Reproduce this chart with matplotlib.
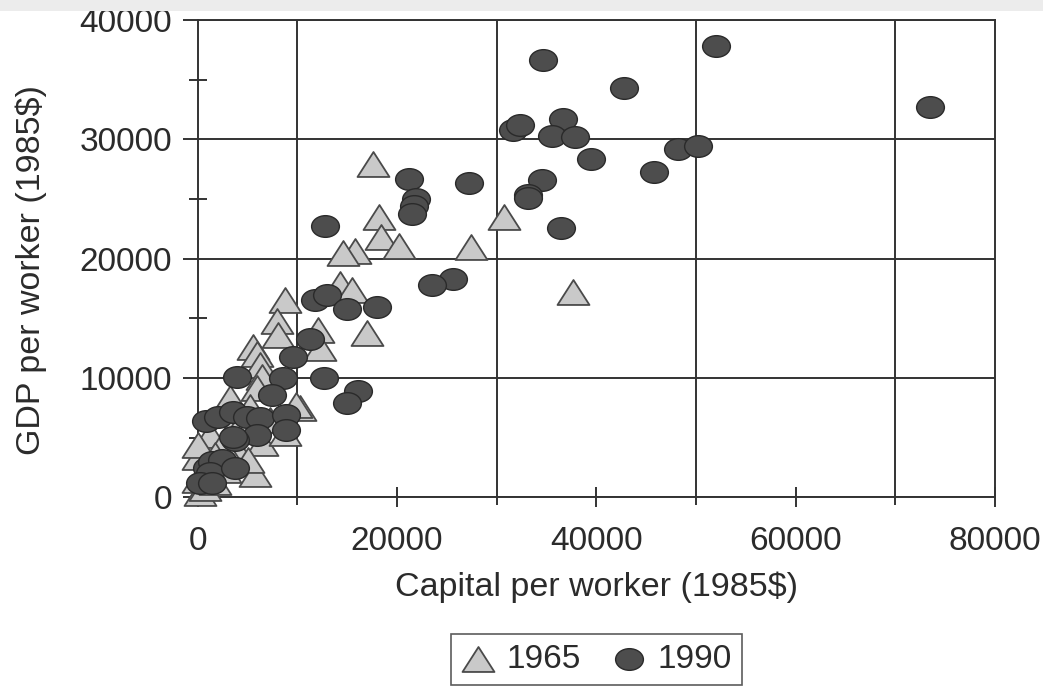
import numpy as np
import matplotlib
matplotlib.use('Agg')
from matplotlib import pyplot as plt
from matplotlib.path import Path
from matplotlib.patches import Rectangle
from matplotlib.ticker import FixedLocator

plt.rcParams['font.family'] = ['Liberation Sans', 'DejaVu Sans']

# capital per worker / GDP per worker, 1985$
k1965 = [37660, 17590, 18190, 18390, 20200, 27420, 30730, 15780, 14580, 14280,
         15480, 16990, 12070, 12270, 8760, 7960, 8060, 5550, 5950, 6250,
         6450, 5950, 10260, 9860, 5250, 6450, 5750, 4240, 3240, 1230,
         0, 30, 0, 230, 730, 1740, 2740, 4240, 7250, 8760,
         2440, 5050, 3240, 1740]
y1965 = [17230, 27970, 23520, 21850, 21090, 21010, 23520, 20670, 20500, 17900,
         17400, 13790, 14050, 12540, 16560, 14800, 13630, 12620, 12030, 11110,
         10110, 9180, 7510, 7760, 7590, 4570, 1970, 3560, 5490, 5240,
         3400, 4400, 1470, 380, 800, 1300, 2310, 6080, 6500, 5410,
         4400, 3140, 8340, 3560]

k1990 = [34650, 52010, 42780, 73480, 31640, 32340, 36650, 35550, 37860, 39460,
         48190, 50200, 45790, 34550, 33140, 33140, 36450, 21200, 27220, 21900,
         21700, 21500, 12770, 25620, 23510, 11770, 12970, 14980, 17990, 11270,
         9560, 12670, 16080, 14980, 3940, 8560, 7460, 830, 2040, 3540,
         4950, 6250, 8860, 8860, 5950, 3740, 3540, 930, 1430, 2440,
         1230, 3740, 230, 1430]
y1990 = [36690, 37860, 34340, 32750, 30820, 31240, 31740, 30320, 30230, 28390,
         29230, 29480, 27300, 26630, 25370, 25120, 22600, 26710, 26370, 25030,
         24450, 23770, 22770, 18320, 17820, 16560, 16980, 15810, 15980, 13290,
         11780, 10020, 8930, 7920, 10110, 10020, 8600, 6420, 6750, 7170,
         6750, 6670, 6920, 5660, 5240, 4820, 5070, 2470, 2980, 3140,
         2050, 2470, 1220, 1220]

ink = '#333333'
txt = '#2b2b2b'

# flattened triangle and ellipse markers like the printed figure
tri = Path([(0, 0.78), (-1, -0.78), (1, -0.78), (0, 0.78)],
           [Path.MOVETO, Path.LINETO, Path.LINETO, Path.CLOSEPOLY])
uc = Path.unit_circle()
ell = Path(uc.vertices * np.array([1.0, 0.78]), uc.codes)

fig = plt.figure(figsize=(10.43, 6.86), dpi=100)
ax = fig.add_axes([0.1895, 0.2748, 0.7644, 0.696])

ax.scatter(k1965, y1965, s=530, marker=tri, facecolor='#c9c9c9',
           edgecolor='#4a4a4a', linewidth=1.3, zorder=3, clip_on=False, label='1965')
ax.scatter(k1990, y1990, s=400, marker=ell, facecolor='#4d4d4d',
           edgecolor='#2a2a2a', linewidth=1.0, zorder=4, clip_on=False, label='1990')

ax.set_xlim(0, 80000)
ax.set_ylim(0, 40000)

ax.xaxis.set_major_locator(FixedLocator([0, 20000, 40000, 60000, 80000]))
ax.xaxis.set_minor_locator(FixedLocator([10000, 30000, 50000, 70000]))
ax.yaxis.set_major_locator(FixedLocator([0, 10000, 20000, 30000, 40000]))
ax.yaxis.set_minor_locator(FixedLocator([5000, 15000, 25000, 35000]))

ax.grid(which='minor', axis='x', color=ink, linewidth=1.4)
ax.grid(which='major', axis='y', color=ink, linewidth=1.4)
ax.set_axisbelow(True)

ax.tick_params(axis='x', which='major', direction='inout', length=15, width=1.4,
               color=ink, labelsize=24, labelcolor=txt, pad=13)
ax.tick_params(axis='x', which='minor', direction='out', length=6, width=1.4, color=ink)
ax.tick_params(axis='y', which='major', direction='out', length=10.5, width=1.4,
               color=ink, labelsize=24, labelcolor=txt, pad=8)
ax.tick_params(axis='y', which='minor', direction='inout', length=13, width=1.4, color=ink)

for sp in ax.spines.values():
    sp.set_color(ink)
    sp.set_linewidth(1.4)

ax.set_xlabel('Capital per worker (1985$)', fontsize=24.5, color=txt)
ax.set_ylabel('GDP per worker (1985$)', fontsize=24.5, color=txt)
ax.xaxis.set_label_coords(0.5, -0.156)
ax.yaxis.set_label_coords(-0.189, 0.476)

leg = fig.legend(loc='upper center', bbox_to_anchor=(0.572, 1 - 634 / 686), ncol=2,
                 fontsize=24, frameon=True, fancybox=False, scatterpoints=1,
                 handlelength=1.0, handletextpad=0.35, columnspacing=0.95,
                 borderpad=0.3, borderaxespad=0, labelcolor=txt)
leg.get_frame().set_edgecolor(ink)
leg.get_frame().set_linewidth(1.2)

# light strip along the top edge of the scan
fig.add_artist(Rectangle((0, 1 - 11 / 686), 1, 11 / 686, transform=fig.transFigure,
                         facecolor='#ececec', edgecolor='none', zorder=10))

fig.savefig('out.png', dpi=100)
